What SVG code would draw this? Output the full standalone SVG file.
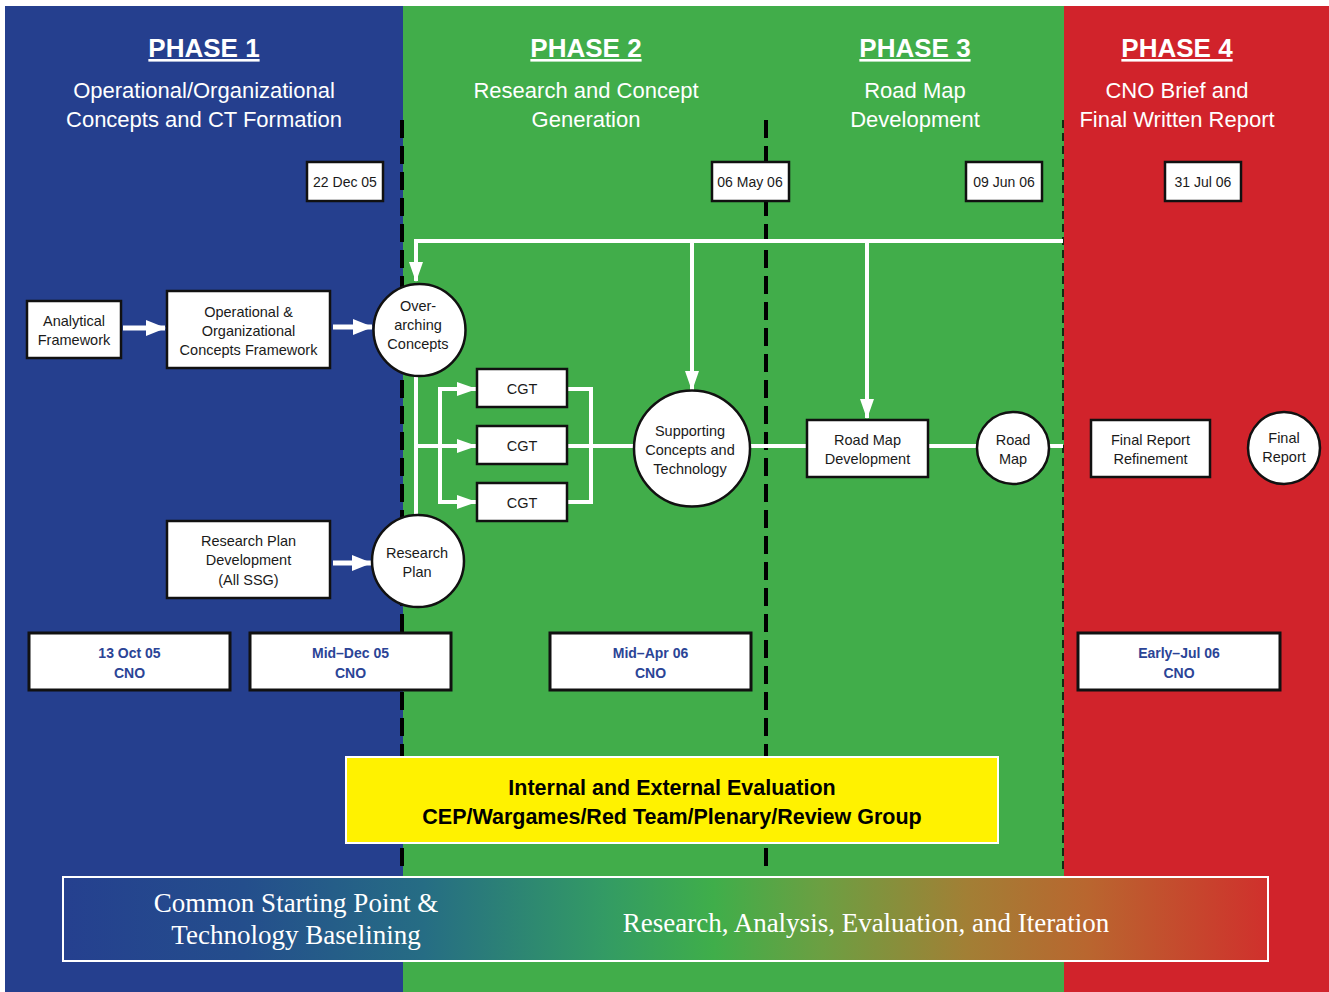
<svg xmlns="http://www.w3.org/2000/svg" width="1329" height="992" viewBox="0 0 1329 992">
<defs>
<style>
.hdr{font-family:"Liberation Sans",Arial,sans-serif;font-weight:bold;font-size:26px;fill:#fff;text-anchor:middle;text-decoration:underline}
.sub{font-family:"Liberation Sans",Arial,sans-serif;font-size:22px;fill:#fff;text-anchor:middle}
.t{font-family:"Liberation Sans",Arial,sans-serif;font-size:14.5px;fill:#1a1a1a;text-anchor:middle}
.d{font-family:"Liberation Sans",Arial,sans-serif;font-size:14px;fill:#1a1a1a;text-anchor:middle}
.cno{font-family:"Liberation Sans",Arial,sans-serif;font-size:14px;font-weight:bold;fill:#2b4496;text-anchor:middle}
.box{fill:#fff;stroke:#111;stroke-width:2.5}
.cbox{fill:#fff;stroke:#111;stroke-width:3}
.circ{fill:#fff;stroke:#111;stroke-width:2.5}
.wl{fill:none;stroke:#fff;stroke-width:4}
.wla{fill:none;stroke:#fff;stroke-width:5}
.dash{stroke:#000;stroke-width:4;stroke-dasharray:18 8}
.eval{font-family:"Liberation Sans",Arial,sans-serif;font-weight:bold;font-size:21.5px;fill:#000;text-anchor:middle}
.serif{font-family:"Liberation Serif","Times New Roman",serif;font-size:27px;fill:#fff;text-anchor:middle}
</style>
<marker id="ah" markerUnits="userSpaceOnUse" markerWidth="20" markerHeight="16" refX="19" refY="8" orient="auto">
<path d="M0,0 L20,8 L0,16 z" fill="#fff"/>
</marker>
<marker id="ahs" markerUnits="userSpaceOnUse" markerWidth="20" markerHeight="14" refX="19" refY="7" orient="auto">
<path d="M0,0 L20,7 L0,14 z" fill="#fff"/>
</marker>
<linearGradient id="grad" x1="0" y1="0" x2="1" y2="0">
<stop offset="0" stop-color="#25408f"/>
<stop offset="0.15" stop-color="#244e8c"/>
<stop offset="0.3" stop-color="#266d84"/>
<stop offset="0.45" stop-color="#339b64"/>
<stop offset="0.54" stop-color="#3fae4a"/>
<stop offset="0.63" stop-color="#6c9f42"/>
<stop offset="0.75" stop-color="#a27f35"/>
<stop offset="0.85" stop-color="#b9662f"/>
<stop offset="1" stop-color="#d0302c"/>
</linearGradient>
</defs>

<rect x="0" y="0" width="1329" height="992" fill="#fff"/>
<rect x="5" y="6" width="398" height="986" fill="#253f8e"/>
<rect x="403" y="6" width="661" height="986" fill="#41ad4a"/>
<rect x="1064" y="6" width="265" height="986" fill="#d1232b"/>

<g id="headers">
<text class="hdr" x="204" y="57">PHASE 1</text>
<text class="sub" x="204" y="98">Operational/Organizational</text>
<text class="sub" x="204" y="127">Concepts and CT Formation</text>
<text class="hdr" x="586" y="57">PHASE 2</text>
<text class="sub" x="586" y="98">Research and Concept</text>
<text class="sub" x="586" y="127">Generation</text>
<text class="hdr" x="915" y="57">PHASE 3</text>
<text class="sub" x="915" y="98">Road Map</text>
<text class="sub" x="915" y="127">Development</text>
<text class="hdr" x="1177" y="57">PHASE 4</text>
<text class="sub" x="1177" y="98">CNO Brief and</text>
<text class="sub" x="1177" y="127">Final Written Report</text>
</g>

<g id="dividers">
<line class="dash" x1="402" y1="120" x2="402" y2="870"/>
<line class="dash" x1="766" y1="120" x2="766" y2="870"/>
<line x1="1063" y1="120" x2="1063" y2="870" stroke="#000" stroke-width="1.5" stroke-dasharray="8 5"/>
</g>

<g id="connectors">
<path class="wl" d="M1063,241 H416 V281" marker-end="url(#ahs)"/>
<path class="wl" d="M692,241 V390" marker-end="url(#ahs)"/>
<path class="wl" d="M867,241 V418" marker-end="url(#ahs)"/>
<path class="wla" d="M123,328 H165" marker-end="url(#ah)"/>
<path class="wla" d="M333,327 H372" marker-end="url(#ah)"/>
<path class="wla" d="M333,563 H371" marker-end="url(#ah)"/>
<path class="wl" d="M416,376 V516"/>
<path class="wl" d="M416,446 H476" marker-end="url(#ahs)"/>
<path class="wl" d="M476,389 H440 V502 H476" marker-end="url(#ahs)"/>
<path class="wl" d="M440,389 H476" marker-end="url(#ahs)"/>
<path class="wl" d="M567,389 H591 V502 H567"/>
<path class="wl" d="M567,446 H634"/>
<path class="wl" d="M750,446 H807"/>
<path class="wl" d="M928,446 H977"/>
<path class="wl" d="M1049,446 H1063"/>
</g>

<g id="date-22dec05"><rect class="box" x="307" y="162" width="76" height="39"/><text class="d" x="345" y="187">22 Dec 05</text></g>
<g id="date-06may06"><rect class="box" x="712" y="162" width="77" height="39"/><text class="d" x="750" y="187">06 May 06</text></g>
<g id="date-09jun06"><rect class="box" x="966" y="162" width="76" height="39"/><text class="d" x="1004" y="187">09 Jun 06</text></g>
<g id="date-31jul06"><rect class="box" x="1165" y="162" width="76" height="39"/><text class="d" x="1203" y="187">31 Jul 06</text></g>

<g id="analytical-framework"><rect class="box" x="27" y="301" width="94" height="57"/><text class="t" x="74" y="326">Analytical</text><text class="t" x="74" y="345">Framework</text></g>
<g id="op-org-framework"><rect class="box" x="167" y="291" width="163" height="77"/><text class="t" x="248.5" y="317">Operational &amp;</text><text class="t" x="248.5" y="336">Organizational</text><text class="t" x="248.5" y="355">Concepts Framework</text></g>
<g id="overarching"><circle class="circ" cx="419.5" cy="330" r="46"/><text class="t" x="418" y="311">Over-</text><text class="t" x="418" y="330">arching</text><text class="t" x="418" y="349">Concepts</text></g>
<g id="research-plan-dev"><rect class="box" x="167" y="521" width="163" height="77"/><text class="t" x="248.5" y="546">Research Plan</text><text class="t" x="248.5" y="565">Development</text><text class="t" x="248.5" y="585">(All SSG)</text></g>
<g id="research-plan"><circle class="circ" cx="418" cy="561" r="46"/><text class="t" x="417" y="558">Research</text><text class="t" x="417" y="577">Plan</text></g>
<g id="cgt1"><rect class="box" x="477" y="369" width="90" height="38"/><text class="t" x="522" y="394">CGT</text></g>
<g id="cgt2"><rect class="box" x="477" y="426" width="90" height="38"/><text class="t" x="522" y="451">CGT</text></g>
<g id="cgt3"><rect class="box" x="477" y="483" width="90" height="38"/><text class="t" x="522" y="508">CGT</text></g>
<g id="supporting"><circle class="circ" cx="692" cy="448.5" r="58"/><text class="t" x="690" y="436">Supporting</text><text class="t" x="690" y="455">Concepts and</text><text class="t" x="690" y="474">Technology</text></g>
<g id="roadmap-dev"><rect class="box" x="807" y="420" width="121" height="57"/><text class="t" x="867.5" y="445">Road Map</text><text class="t" x="867.5" y="464">Development</text></g>
<g id="roadmap"><circle class="circ" cx="1013" cy="448" r="36"/><text class="t" x="1013" y="445">Road</text><text class="t" x="1013" y="464">Map</text></g>
<g id="final-refinement"><rect class="box" x="1091" y="420" width="119" height="57"/><text class="t" x="1150.5" y="445">Final Report</text><text class="t" x="1150.5" y="464">Refinement</text></g>
<g id="final-report"><circle class="circ" cx="1284" cy="448" r="36"/><text class="t" x="1284" y="443">Final</text><text class="t" x="1284" y="462">Report</text></g>

<g id="cno-13oct05"><rect class="cbox" x="29" y="633" width="201" height="57"/><text class="cno" x="129.5" y="658">13 Oct 05</text><text class="cno" x="129.5" y="678">CNO</text></g>
<g id="cno-middec05"><rect class="cbox" x="250" y="633" width="201" height="57"/><text class="cno" x="350.5" y="658">Mid–Dec 05</text><text class="cno" x="350.5" y="678">CNO</text></g>
<g id="cno-midapr06"><rect class="cbox" x="550" y="633" width="201" height="57"/><text class="cno" x="650.5" y="658">Mid–Apr 06</text><text class="cno" x="650.5" y="678">CNO</text></g>
<g id="cno-earlyjul06"><rect class="cbox" x="1078" y="633" width="202" height="57"/><text class="cno" x="1179" y="658">Early–Jul 06</text><text class="cno" x="1179" y="678">CNO</text></g>

<g id="evaluation"><rect x="346" y="757" width="652" height="86" fill="#fff200" stroke="#fff" stroke-width="2"/><text class="eval" x="672" y="795">Internal and External Evaluation</text><text class="eval" x="672" y="824">CEP/Wargames/Red Team/Plenary/Review Group</text></g>

<g id="baseline-bar"><rect x="63" y="877" width="1205" height="84" fill="url(#grad)" stroke="#fff" stroke-width="2"/><text class="serif" x="296" y="912">Common Starting Point &amp;</text><text class="serif" x="296" y="944">Technology Baselining</text><text class="serif" x="866" y="932">Research, Analysis, Evaluation, and Iteration</text></g>
</svg>
